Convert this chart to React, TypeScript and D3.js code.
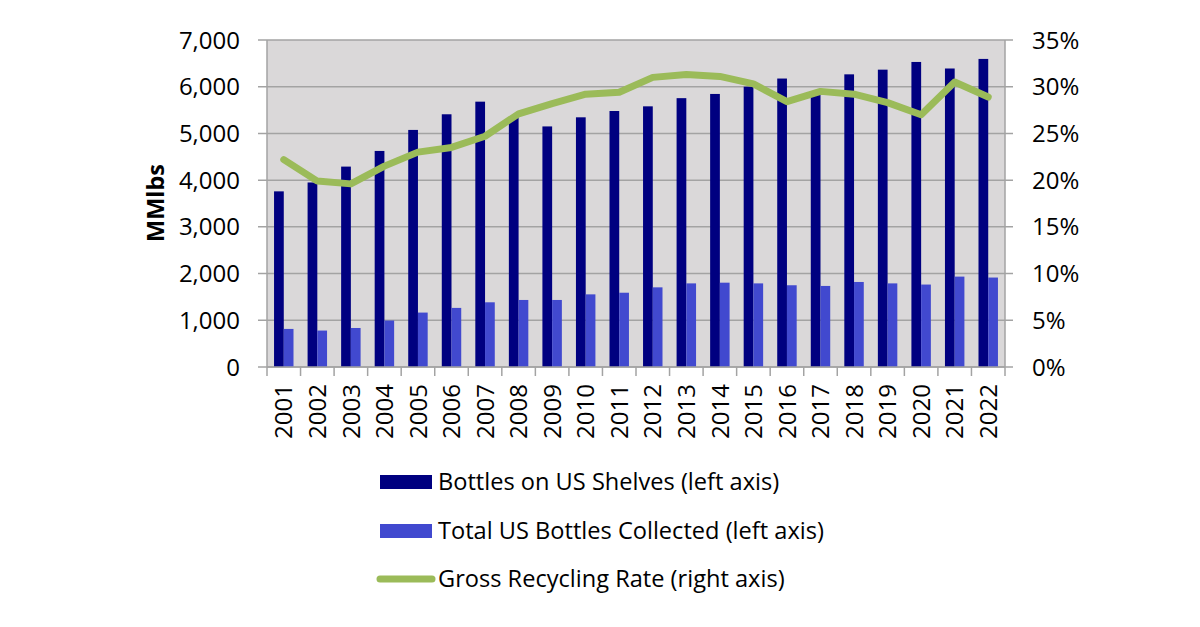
import React from "react";
import * as d3 from "d3";

const years = ["2001","2002","2003","2004","2005","2006","2007","2008","2009","2010","2011","2012","2013","2014","2015","2016","2017","2018","2019","2020","2021","2022"];
const shelves = [3760,3950,4290,4625,5075,5410,5680,5350,5150,5345,5480,5580,5755,5845,6000,6175,5900,6265,6365,6530,6390,6595];
const collected = [815,780,835,995,1165,1265,1385,1435,1435,1555,1590,1705,1790,1805,1790,1750,1735,1820,1790,1765,1935,1915];
const rate = [22.2,19.9,19.6,21.5,23.0,23.5,24.7,27.1,28.2,29.2,29.4,31.0,31.3,31.1,30.3,28.4,29.5,29.2,28.3,27.0,30.5,28.9];
const leftTicks = [0,1000,2000,3000,4000,5000,6000,7000];
const rightTicks = [0,5,10,15,20,25,30,35];

const W = 1200, H = 627;
const FONT = "'Open Sans', Lato, sans-serif";
const plot = { left: 267, right: 1005, top: 40, bottom: 367 };
const DARK = "#000080";
const LIGHT = "#4149CF";
const GREEN = "#9BBB59";

export default function App() {
  const x = d3.scaleBand<string>().domain(years).range([plot.left, plot.right]).paddingInner(0.42).paddingOuter(0.21);
  const band = d3.scaleBand<string>().domain(years).range([plot.left, plot.right]);
  const yL = d3.scaleLinear().domain([0, 7000]).range([plot.bottom, plot.top]);
  const yR = d3.scaleLinear().domain([0, 35]).range([plot.bottom, plot.top]);
  const bw = x.bandwidth() / 2;
  const line = d3.line<number>().x((_, i) => band(years[i])! + band.bandwidth() / 2).y(d => yR(d));
  const fmt = d3.format(",");
  const legendItems = [
    { label: "Bottles on US Shelves (left axis)", type: "bar", color: DARK, y: 482 },
    { label: "Total US Bottles Collected (left axis)", type: "bar", color: LIGHT, y: 531 },
    { label: "Gross Recycling Rate (right axis)", type: "line", color: GREEN, y: 579 },
  ];
  return (
    <svg width={W} height={H} style={{ position: "absolute", left: 0, top: 0, background: "#fff" }} fontFamily={FONT}>
      <rect x={plot.left} y={plot.top} width={plot.right - plot.left} height={plot.bottom - plot.top} fill="#DAD8D9" />
      {leftTicks.map(t => (
        <g key={t}>
          <line x1={plot.left - 9} x2={plot.right + 8} y1={yL(t)} y2={yL(t)} stroke="#A3A3A3" strokeWidth={1.5} />
          <text x={240} y={yL(t)} dy="0.36em" textAnchor="end" fontSize={24} fill="#000">{fmt(t)}</text>
        </g>
      ))}
      {rightTicks.map(t => (
        <text key={t} x={1032} y={yR(t)} dy="0.36em" textAnchor="start" fontSize={24} fill="#000">{t + "%"}</text>
      ))}
      <line x1={plot.left} x2={plot.left} y1={plot.top} y2={plot.bottom} stroke="#A3A3A3" strokeWidth={1.5} />
      <line x1={plot.right} x2={plot.right} y1={plot.top} y2={plot.bottom} stroke="#A3A3A3" strokeWidth={1.5} />
      {years.map((yr, i) => (
        <g key={yr}>
          <rect x={x(yr)!} y={yL(shelves[i])} width={bw} height={plot.bottom - yL(shelves[i])} fill={DARK} />
          <rect x={x(yr)! + bw} y={yL(collected[i])} width={bw} height={plot.bottom - yL(collected[i])} fill={LIGHT} />
        </g>
      ))}
      {[...years, "end"].map((yr, i) => {
        const xx = plot.left + i * band.step();
        return <line key={"t" + i} x1={xx} x2={xx} y1={plot.bottom} y2={plot.bottom + 9} stroke="#A3A3A3" strokeWidth={1.5} />;
      })}
      <line x1={plot.left} x2={plot.right} y1={plot.bottom} y2={plot.bottom} stroke="#A3A3A3" strokeWidth={1.5} />
      <path d={line(rate)!} fill="none" stroke={GREEN} strokeWidth={7} strokeLinejoin="round" strokeLinecap="round" />
      {years.map(yr => {
        const cx = band(yr)! + band.bandwidth() / 2;
        return (
          <text key={"l" + yr} transform={`translate(${cx},384) rotate(-90)`} dy="0.36em" textAnchor="end" fontSize={24} fill="#000">{yr}</text>
        );
      })}
      <text transform="translate(156,203) rotate(-90)" textAnchor="middle" dy="0.36em" fontSize={23.5} fontWeight="bold" fill="#000">MMlbs</text>
      {legendItems.map(it => (
        <g key={it.label}>
          {it.type === "bar"
            ? <rect x={380} y={it.y - 7} width={52} height={14} fill={it.color} />
            : <line x1={380} x2={432} y1={it.y} y2={it.y} stroke={it.color} strokeWidth={7} strokeLinecap="round" />}
          <text x={438} y={it.y} dy="0.36em" fontSize={23.6} fill="#000">{it.label}</text>
        </g>
      ))}
    </svg>
  );
}
